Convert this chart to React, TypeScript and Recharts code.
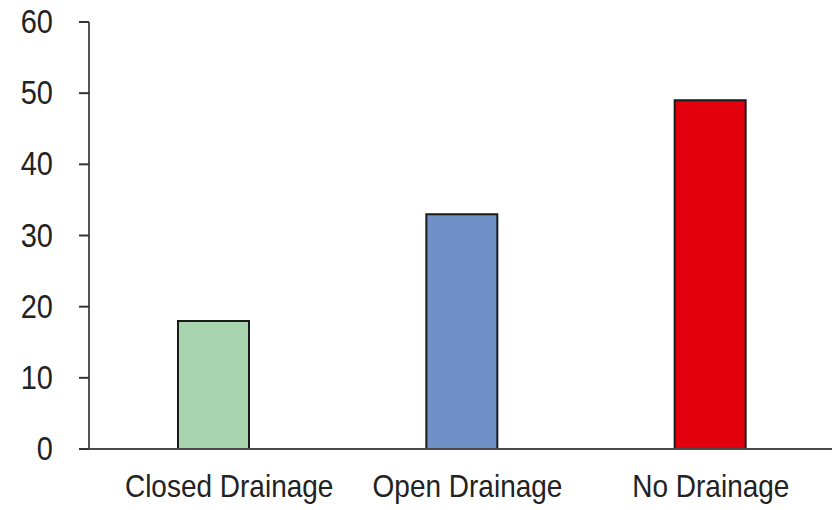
import { BarChart, Bar, XAxis, YAxis, Cell } from "recharts";

const categories = ["Closed Drainage", "Open Drainage", "No Drainage"];
const values = [18, 33, 49];
const barColors = ["#a8d4ae", "#7090c8", "#e3000e"];
const yTicks = [0, 10, 20, 30, 40, 50, 60];

const data = categories.map((name, i) => ({ name, value: values[i] }));

const FONT = "'Liberation Sans', Arial, sans-serif";
// the source labels sit a little right of their bars
const labelShift = [16, 6, 1];

const XTick = (props: any) => {
  const { x, y, payload, index } = props;
  return (
    <text
      transform={`translate(${x + (labelShift[index] || 0)},${y + 48}) scale(1,1.12)`}
      textAnchor="middle"
      fontFamily={FONT}
      fontSize={28}
      fill="#222"
    >
      {payload.value}
    </text>
  );
};

const YTick = (props: any) => {
  const { x, y, payload } = props;
  return (
    <text
      transform={`translate(${x + 1},${y + 11}) scale(1,1.12)`}
      textAnchor="end"
      fontFamily={FONT}
      fontSize={29}
      fill="#222"
    >
      {payload.value}
    </text>
  );
};

export default function App() {
  return (
    <div style={{ marginTop: -8 }}>
      <BarChart
        width={832}
        height={510}
        data={data}
        margin={{ top: 22, right: 6, left: 0, bottom: 0 }}
      >
        <XAxis
          dataKey="name"
          height={61}
          tickLine={false}
          tickSize={0}
          tickMargin={0}
          axisLine={{ stroke: "#4a4a4a", strokeWidth: 2 }}
          tick={<XTick />}
          interval={0}
        />
        <YAxis
          width={81}
          domain={[0, 60]}
          ticks={yTicks}
          tickSize={10}
          tickMargin={27}
          tickLine={{ stroke: "#333", strokeWidth: 2 }}
          axisLine={{ stroke: "#555", strokeWidth: 2 }}
          tick={<YTick />}
        />
        <Bar
          dataKey="value"
          barSize={71}
          stroke="#1a1a1a"
          strokeWidth={2}
          isAnimationActive={false}
        >
          {data.map((d, i) => (
            <Cell key={d.name} fill={barColors[i]} />
          ))}
        </Bar>
      </BarChart>
    </div>
  );
}
